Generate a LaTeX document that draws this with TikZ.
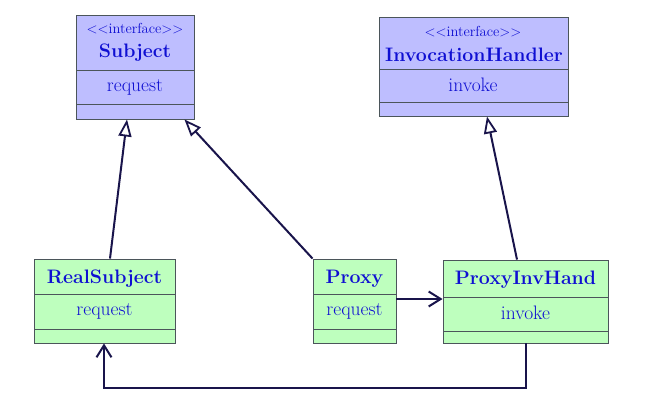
\documentclass[tikz,border=0pt]{standalone}
\usetikzlibrary{arrows.meta,calc}
\definecolor{txtblue}{RGB}{15,15,210}
\definecolor{lineblue}{RGB}{25,20,75}
\definecolor{boxedge}{RGB}{75,85,90}
\definecolor{lav}{RGB}{190,190,255}
\definecolor{mint}{RGB}{190,255,190}
\tikzset{
  umlbox/.style={draw=boxedge, line width=0.9pt, rectangle, inner sep=0pt},
  divider/.style={draw=boxedge, line width=0.9pt},
  stereo/.style={text=txtblue, font=\fontsize{14.5}{16}\selectfont, inner sep=0pt, anchor=base},
  cname/.style={text=txtblue, font=\fontsize{19.5}{24}\selectfont\bfseries, inner sep=0pt, anchor=base},
  meth/.style={text=txtblue, font=\fontsize{19.5}{24}\selectfont, inner sep=0pt, anchor=base},
  inherit/.style={draw=lineblue, line width=2pt, -{Triangle[open, length=17pt, width=13pt, line width=1.8pt]}},
  assoc/.style={draw=lineblue, line width=2pt, -{Straight Barb[length=12pt, width=15pt, line width=2pt]}},
}
% name, x1, y1, x2, y2, fill
\newcommand{\mkbox}[6]{%
  \node[umlbox, fill=#6, minimum width={(#4-#2)*1pt}, minimum height={(#5-#3)*1pt}] (#1) at ({(#2+#4)/2},{(#3+#5)/2}) {};
}
\begin{document}
\begin{tikzpicture}[x=1pt,y=-1pt]
\useasboundingbox (0,0) rectangle (646,405);

% Subject
\mkbox{subj}{76}{15}{194}{119}{lav}
\draw[divider] (76,70) -- (194,70);
\draw[divider] (76,104) -- (194,104);
\node[stereo] (subjst) at (135,33) {$<<$interface$>>$};
\node[cname] (subjn) at (135,57.7) {Subject};
\node[meth] (subjm) at (135,91) {request};

% InvocationHandler
\mkbox{ih}{379}{17}{568}{116}{lav}
\draw[divider] (379,69) -- (568,69);
\draw[divider] (379,102) -- (568,102);
\node[stereo] (ihst) at (473,36) {$<<$interface$>>$};
\node[cname] (ihn) at (474,61) {InvocationHandler};
\node[meth] (ihm) at (473,91) {invoke};

% RealSubject
\mkbox{real}{34}{259}{175}{343}{mint}
\draw[divider] (34,294) -- (175,294);
\draw[divider] (34,329) -- (175,329);
\node[cname] (realn) at (104.5,283.4) {RealSubject};
\node[meth] (realm) at (104.5,315.8) {request};

% Proxy
\mkbox{proxy}{313}{259}{396}{343}{mint}
\draw[divider] (313,294) -- (396,294);
\draw[divider] (313,329) -- (396,329);
\node[cname] (proxyn) at (354.5,283.4) {Proxy};
\node[meth] (proxym) at (354.5,315.8) {request};

% ProxyInvHand
\mkbox{pih}{443}{260}{608}{343}{mint}
\draw[divider] (443,297) -- (608,297);
\draw[divider] (443,331) -- (608,331);
\node[cname] (pihn) at (525.5,284.5) {ProxyInvHand};
\node[meth] (pihm) at (525.5,319.5) {invoke};

% connectors
\draw[inherit] ($(real.north)+(5.5,0)$) -- ($(subj.south)+(-8,0)$);
\draw[inherit] (proxy.north west) -- ($(subj.south east)+(-10,0)$);
\draw[inherit] ($(pih.north)+(-8.5,0)$) -- ($(ih.south)+(13.5,0)$);
\draw[assoc] (proxy.east |- 0,299) -- (pih.west |- 0,299);
\coordinate (c1) at (526,388);
\coordinate (c2) at (104,388);
\draw[assoc] ($(pih.south)+(0.5,0)$) -- (c1) -- (c2) -- ($(real.south)+(-0.5,0)$);
\end{tikzpicture}
\end{document}
